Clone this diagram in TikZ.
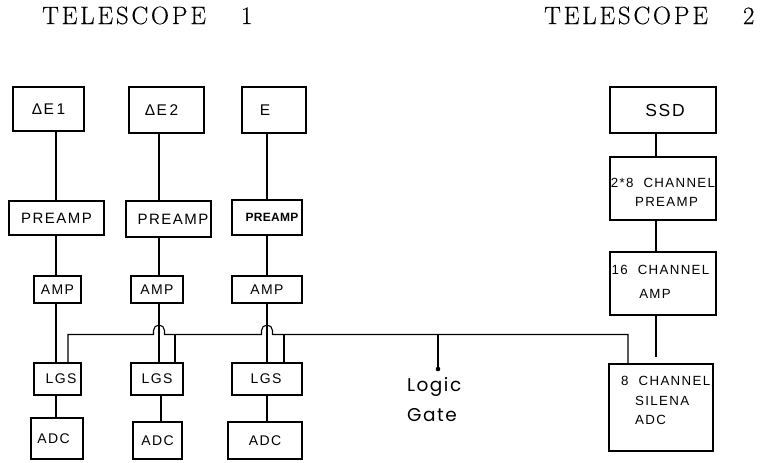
\documentclass[tikz,border=0pt]{standalone}
\usepackage{fontspec}
\newfontfamily\boxfont[LetterSpace=10]{Liberation Sans}
\newfontfamily\boxfontb[LetterSpace=2]{Liberation Sans Bold}
\newfontfamily\titlefont[FakeBold=0.4]{Latin Modern Roman}
\newfontfamily\gatefont[LetterSpace=8]{Poppins}
\newcommand{\tsc}{T\kern2.8pt E\kern2.8pt L\kern2.8pt E\kern2.8pt S\kern2.8pt C\kern2.8pt O\kern2.8pt P\kern2.8pt E}
\usetikzlibrary{calc}
\begin{document}
\begin{tikzpicture}[x=1pt,y=-1pt,
  box/.style={draw,line width=1.1pt,inner sep=0pt,font=\boxfont\fontsize{14}{16}\selectfont},
  bigtext/.style={font=\boxfont\fontsize{15.5}{18}\selectfont},
  sig/.style={line width=1.8pt},
  bus/.style={line width=1.1pt},
  txt/.style={inner sep=0pt,font=\boxfont\fontsize{13.3}{16}\selectfont},
  title/.style={inner sep=0pt,anchor=base west,font=\titlefont\fontsize{25}{28}\selectfont},
  gatetxt/.style={inner sep=0pt,anchor=base west,font=\gatefont\fontsize{18.5}{20}\selectfont}]
\useasboundingbox (0,0) rectangle (777,463);
\fill[white] (0,0) rectangle (777,463);

% titles
\node[title] (t1) at (42,24) {\tsc\kern35pt 1};
\node[title] (t2) at (544,24) {\tsc\kern35pt 2};

% column coordinates
\coordinate (col1) at (56,0);
\coordinate (col2) at (159,0);
\coordinate (col2b) at (161,0);
\coordinate (col3) at (267,0);
\coordinate (colR) at (656,0);
\coordinate (tap1) at (68,0);
\coordinate (tap2) at (175,0);
\coordinate (tap3) at (284,0);
\coordinate (tapR) at (628,0);
\coordinate (busy) at (0,334.5);

% telescope 1 boxes
\node[box,bigtext,minimum width=71pt,minimum height=44pt] (d1) at (48.5,109) {Δ\kern1.5pt E\kern2.5pt 1};
\node[box,bigtext,minimum width=75pt,minimum height=46pt] (d2) at (166.5,110) {Δ\kern1.5pt E\kern2.5pt 2\kern10pt};
\node[box,bigtext,minimum width=64pt,minimum height=46pt] (e) at (274,110) {E\kern18pt};

\node[box,font=\boxfont\fontsize{15}{17}\selectfont,minimum width=95pt,minimum height=34pt] (p1) at (56.5,218) {PREAMP};
\node[box,font=\boxfont\fontsize{15}{17}\selectfont,minimum width=85pt,minimum height=36pt] (p2) at (168.5,219) {\kern9pt PREAMP};
\node[box,font=\boxfontb\fontsize{12}{14}\selectfont,minimum width=70pt,minimum height=35pt] (p3) at (267,217.5) {\kern10pt PREAMP};

\node[box,minimum width=47pt,minimum height=27pt] (a1) at (57.5,289.5) {AMP};
\node[box,minimum width=52pt,minimum height=27pt] (a2) at (157,289.5) {AMP};
\node[box,minimum width=70pt,minimum height=27pt] (a3) at (267,289.5) {AMP};

\node[box,minimum width=47pt,minimum height=32pt] (l1) at (57.5,379) {\kern7pt LGS};
\node[box,minimum width=52pt,minimum height=32pt] (l2) at (157,379) {LGS};
\node[box,minimum width=70pt,minimum height=32pt] (l3) at (267,379) {LGS\kern2pt};

\node[box,minimum width=52pt,minimum height=41pt] (c1) at (57,438.5) {ADC\kern7pt};
\node[box,minimum width=49pt,minimum height=37pt] (c2) at (157.5,440.5) {ADC};
\node[box,minimum width=74pt,minimum height=37pt] (c3) at (265,440.5) {ADC};

% telescope 2 boxes
\node[box,font=\boxfont\fontsize{17.5}{20}\selectfont,minimum width=106pt,minimum height=46pt] (ssd) at (663,110) {SSD\kern-4pt};
\node[box,minimum width=106pt,minimum height=63pt] (pre8) at (663,188.5) {};
\node[box,minimum width=106pt,minimum height=63pt] (amp16) at (663,283.5) {};
\node[box,minimum width=104pt,minimum height=87pt] (sil) at (661,407.5) {};

\node[txt,anchor=base] (pre8a) at (663,187) {2*8~~CHANNEL};
\node[txt,anchor=base] (pre8b) at (666.5,206) {PREAMP};
\node[txt,anchor=base] (amp16a) at (660.5,274) {16~~CHANNEL};
\node[txt,anchor=base] (amp16b) at (655,298) {AMP};
\node[txt,anchor=base west] (sila) at (621,385) {8~~CHANNEL};
\node[txt,anchor=base west] (silb) at (635,405) {SILENA};
\node[txt,anchor=base west] (silc) at (635,424) {ADC};

% logic gate label
\node[gatetxt] (lg1) at (407,391) {Logic};
\node[gatetxt] (lg2) at (407,421) {Gate};

% signal lines telescope 1
\draw[sig] (d1.south -| col1) -- (p1.north -| col1);
\draw[sig] (p1.south -| col1) -- (a1.north -| col1);
\draw[sig] (a1.south -| col1) -- (l1.north -| col1);
\draw[sig] (l1.south -| col1) -- (c1.north -| col1);

\draw[sig] (d2.south -| col2) -- (p2.north -| col2);
\draw[sig] (p2.south -| col2) -- (a2.north -| col2);
\draw[sig] (a2.south -| col2) -- (l2.north -| col2);
\draw[sig] (l2.south -| col2b) -- (c2.north -| col2b);

\draw[sig] (e.south -| col3) -- (p3.north -| col3);
\draw[sig] (p3.south -| col3) -- (a3.north -| col3);
\draw[sig] (a3.south -| col3) -- (l3.north -| col3);
\draw[sig] (l3.south -| col3) -- (c3.north -| col3);

% signal lines telescope 2
\draw[sig] (ssd.south -| colR) -- (pre8.north -| colR);
\draw[sig] (pre8.south -| colR) -- (amp16.north -| colR);
\draw[sig,shorten >=6pt] (amp16.south -| colR) -- (sil.north -| colR);

% logic bus with hops
\draw[bus] (l1.north -| tap1) -- (busy -| tap1)
  -- ($(busy -| col2)+(-5.5,0)$) -- ++(0,-4) arc[start angle=180,end angle=0,radius=5.5pt] -- ++(0,4)
  -- ($(busy -| col3)+(-5.5,0)$) -- ++(0,-4) arc[start angle=180,end angle=0,radius=5.5pt] -- ++(0,4)
  -- (busy -| tapR) -- (sil.north -| tapR);
\draw[bus] (busy -| tap2) -- (l2.north -| tap2);
\draw[bus] (busy -| tap3) -- (l3.north -| tap3);
\coordinate (gate) at (438,369);
\draw[bus] (busy -| gate) -- (gate);
\fill (gate) circle (2.3pt);
\end{tikzpicture}
\end{document}
